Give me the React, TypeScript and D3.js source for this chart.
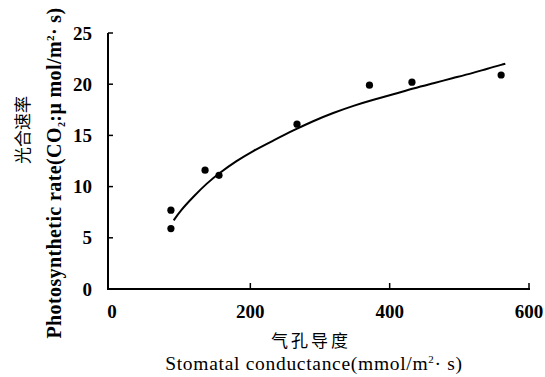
import React from 'react';
import * as d3 from 'd3';

// measured points (stomatal conductance, photosynthetic rate)
const conductance = [86, 86, 135, 155, 267, 371, 432, 560];
const photoRate = [7.7, 5.9, 11.6, 11.1, 16.1, 19.9, 20.2, 20.9];

// fitted curve
const curveX = [90, 99, 118, 137, 157, 180, 204, 233, 262, 290, 319, 348, 377, 405, 434, 463, 491, 520, 539, 566];
const curveY = [6.7, 7.6, 9.0, 10.3, 11.4, 12.5, 13.5, 14.5, 15.5, 16.4, 17.2, 17.9, 18.5, 19.0, 19.6, 20.1, 20.6, 21.1, 21.5, 22.0];

const xTicks = [0, 200, 400, 600];
const yTicks = [0, 5, 10, 15, 20, 25];

const W = 545;
const H = 377;
const serif = '"Liberation Serif", "DejaVu Serif", serif';
const cjk = '"Noto Sans CJK SC", sans-serif';

export default function App() {
  const x = d3.scaleLinear().domain([0, 600]).range([111, 529]);
  const y = d3.scaleLinear().domain([0, 25]).range([289, 33]);
  const axisX0 = 108;

  const line = d3
    .line<number>()
    .x((d) => x(d))
    .y((d, i) => y(curveY[i]))
    .curve(d3.curveBasis);

  return (
    <svg width={W} height={H} style={{ position: 'absolute', left: 0, top: 0, background: '#fff' }}>
      {/* axes */}
      <line x1={axisX0} x2={axisX0} y1={y(25)} y2={y(0) + 1} stroke="#000" strokeWidth={2} />
      <line x1={axisX0} x2={x(600) + 1} y1={y(0)} y2={y(0)} stroke="#000" strokeWidth={2} />
      {yTicks.map((t) => (
        <g key={'y' + t}>
          <line x1={axisX0} x2={axisX0 + 5} y1={y(t)} y2={y(t)} stroke="#000" strokeWidth={1.5} />
          <text x={92} y={y(t)} dy="0.35em" textAnchor="end" fontFamily={serif} fontSize={19} fontWeight="bold" fill="#000">
            {t}
          </text>
        </g>
      ))}
      {xTicks.map((t) => (
        <g key={'x' + t}>
          {t > 0 && <line x1={x(t)} x2={x(t)} y1={y(0)} y2={y(0) - 6} stroke="#000" strokeWidth={1.5} />}
          <text x={t === 0 ? 112 : x(t)} y={318} textAnchor="middle" fontFamily={serif} fontSize={19} fontWeight="bold" fill="#000">
            {t}
          </text>
        </g>
      ))}

      {/* fitted curve */}
      <path d={line(curveX) || ''} fill="none" stroke="#000" strokeWidth={2} />

      {/* points */}
      {conductance.map((c, i) => (
        <circle key={i} cx={x(c)} cy={y(photoRate[i])} r={3.6} fill="#000" />
      ))}

      {/* x labels */}
      <text x={311} y={347} textAnchor="middle" fontFamily={cjk} fontSize={17} letterSpacing={3} fill="#000">
        气孔导度
      </text>
      <text x={314} y={370} textAnchor="middle" fontFamily={serif} fontSize={19.5} letterSpacing={0.7} fill="#000">
        Stomatal conductance(mmol/m<tspan dy={-7} fontSize={11}>2</tspan>
        <tspan dy={7}>· s)</tspan>
      </text>

      {/* y labels */}
      <text
        transform="translate(29,130) rotate(-90)"
        textAnchor="middle"
        fontFamily={cjk}
        fontSize={17}
        fill="#000"
      >
        光合速率
      </text>
      <text
        transform="translate(61,173) rotate(-90)"
        textAnchor="middle"
        fontFamily={serif}
        fontSize={20}
        fontWeight="bold"
        letterSpacing={0.4}
        fill="#000"
      >
        Photosynthetic rate(CO<tspan dy={4} fontSize={10}>2</tspan>
        <tspan dy={-4}>:μ mol/m</tspan>
        <tspan dy={-7} fontSize={11}>2</tspan>
        <tspan dy={7}>· s)</tspan>
      </text>
    </svg>
  );
}
